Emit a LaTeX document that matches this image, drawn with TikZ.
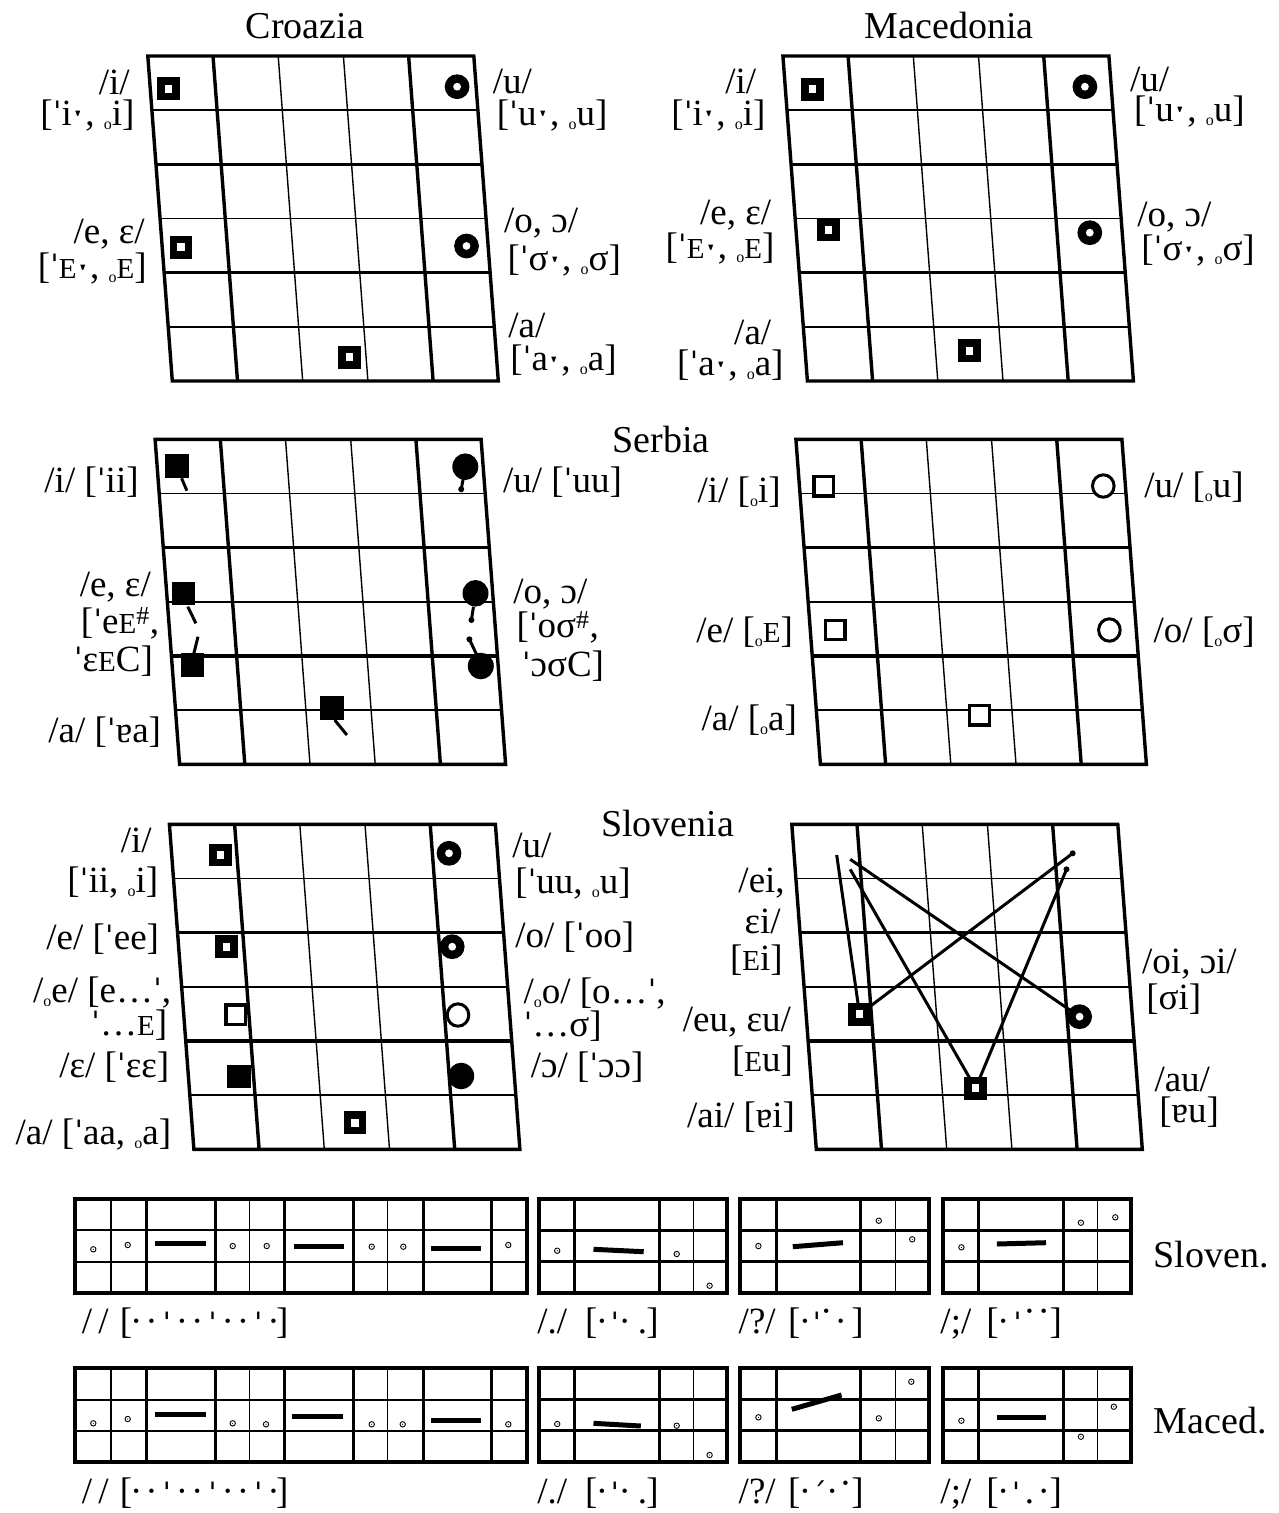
\documentclass[tikz,border=0pt]{standalone}
\usepackage{fontspec}
\setmainfont{Liberation Serif}
\newfontfamily\dvs{DejaVu Serif}[Scale=0.87]
\newcommand\stm{{\dvs ˈ}}
\newcommand\hlm{{\fontsize{46}{46}\dvs\raisebox{-3.5pt}{ˑ}}}
\newcommand\lo{\raisebox{-4pt}{\fontsize{16}{16}\selectfont o}}
\newcommand\sce{{\fontsize{29}{29}\selectfont E}}
\newcommand\Eps{ɛ}
\newcommand\Oc{ɔ}
\newcommand\Ta{ɐ}
\newcommand\sh{\textsuperscript{\#}}
\newcommand\glat[2]{\rlap{\hspace*{#1pt}\makebox[0pt]{#2}}}
\newcommand\pstm{\raisebox{-3pt}{\stm}}
\newcommand\ph[1]{\raisebox{#1pt}{·}}
\newcommand\pac{\raisebox{-3pt}{{\dvs ˊ}}}
% chart: top-left x, y
\newcommand\vchart[2]{%
\begin{scope}[shift={(#1,#2)}]
\foreach \k in {1,3,5}{\draw[thn] ({4.0833*\k},{54.1667*\k}) -- ({326+4.0833*\k},{54.1667*\k});}
\foreach \k in {2,4}{\draw[thk] ({4.0833*\k},{54.1667*\k}) -- ({326+4.0833*\k},{54.1667*\k});}
\foreach \j in {2,3}{\draw[thn] ({65.2*\j},0) -- ({65.2*\j+24.5},325);}
\foreach \j in {1,4}{\draw[thk] ({65.2*\j},0) -- ({65.2*\j+24.5},325);}
\draw[thk,line join=miter] (0,0) -- (326,0) -- (350.5,325) -- (24.5,325) -- cycle;
\end{scope}}
% markers
\newcommand\msq[1]{\fill ([shift={(-11.25,-11.25)}]#1) rectangle +(22.5,22.5);\fill[white] ([shift={(-3.75,-4)}]#1) rectangle +(7.5,8);}
\newcommand\mci[1]{\fill (#1) circle[radius=12.4];\fill[white] (#1) circle[radius=3.9];}
\newcommand\fsq[1]{\fill ([shift={(-11.75,-11.75)}]#1) rectangle +(23.5,23.5);}
\newcommand\fci[1]{\fill (#1) ellipse[x radius=13,y radius=13.3];}
\newcommand\osq[1]{\filldraw[fill=white,line width=3.3pt] ([shift={(-9.8,-9.8)}]#1) rectangle +(19.6,19.6);}
\newcommand\oci[1]{\filldraw[fill=white,line width=3pt] (#1) ellipse[x radius=10.8,y radius=11.2];}
% prosody boxes
\newcommand\bigbox[1]{%
\begin{scope}[shift={(0,#1)}]
\draw[bxh] (75,31.3) -- (526.7,31.3);
\draw[bxh] (75,62.6) -- (526.7,62.6);
\foreach \x in {111,249.3,387.7}{\draw[bxt] (\x,0) -- (\x,94);}
\foreach \x in {146,215,284.3,353.3,423.3,491.7}{\draw[bxk] (\x,0) -- (\x,94);}
\draw[bxb] (75,0) rectangle (526.7,94);
\end{scope}}
\newcommand\smallbox[2]{%
\begin{scope}[shift={(#1,#2)}]
\draw[bxh2] (0,31.3) -- (188.5,31.3);
\draw[bxh2] (0,62.3) -- (188.5,62.3);
\draw[bxk] (36,0) -- (36,94);
\draw[bxk] (120.5,0) -- (120.5,94);
\draw[bxt] (155,0) -- (155,94);
\draw[bxb] (0,0) rectangle (188.5,94);
\end{scope}}
\newcommand\pdot[1]{\draw[pdl] (#1) circle[radius=2.7];\fill (#1) circle[radius=0.6];}
\begin{document}
\begin{tikzpicture}[x=1pt,y=-1pt,
  lab/.style={font=\fontsize{37}{40}\selectfont,inner sep=0pt},
  le/.style={lab,anchor=east},
  lw/.style={lab,anchor=west},
  ttl/.style={font=\fontsize{38}{42}\selectfont,inner sep=0pt,anchor=base},
  thk/.style={line width=3.4pt},
  thn/.style={line width=1.4pt},
  tailln/.style={line width=3pt},
  conn/.style={line width=3pt},
  bxb/.style={line width=4pt,line join=miter},
  bxk/.style={line width=3pt},
  bxt/.style={line width=1.3pt},
  bxh/.style={line width=1.8pt},
  bxh2/.style={line width=2.6pt},
  pbar/.style={line width=5pt},
  pdl/.style={line width=0.9pt}]
\fill[white] (0,0) rectangle (1279,1513);
\useasboundingbox (0,0) rectangle (1279,1513);

% ---------------- titles
\node[ttl] (tcro) at (305,38.3) {Croazia};
\node[ttl] (tmac) at (949.2,38.3) {Macedonia};
\node[ttl] (tser) at (661,452) {Serbia};
\node[ttl] (tslo) at (667.5,836) {Slovenia};
\node[ttl,anchor=base west] (tslov) at (1153.5,1267) {Sloven.};
\node[ttl,anchor=base west] (tmaced) at (1153.5,1433) {Maced.};

% ---------------- charts
\vchart{147.8}{56}
\vchart{782.9}{56}
\vchart{155.1}{439.3}
\vchart{795.9}{439.3}
\vchart{169.4}{824.3}
\vchart{791.8}{824.3}

% ---------------- Croazia
\coordinate (cri) at (168.6,88.7);
\coordinate (cru) at (457.1,86.7);
\coordinate (cre) at (180.8,247.3);
\coordinate (cro) at (466.5,246);
\coordinate (cra) at (349.4,357.3);
\msq{cri}\mci{cru}\msq{cre}\mci{cro}\msq{cra}
\node[le] (cr1) at (129.8,82.3) {/i/};
\node[le] (cr2) at (134.7,115.3) {[\stm i\hlm, \lo i]};
\node[lw] (cr3) at (492.7,81.7) {/u/};
\node[lw] (cr4) at (496.7,115.3) {[\stm u\hlm, \lo u]};
\node[le] (cr5) at (144.9,234) {/e, \Eps/};
\node[le] (cr6) at (146.9,269) {[\stm\sce\hlm, \lo\sce]};
\node[lw] (cr7) at (504,222.7) {/o, \Oc/};
\node[lw] (cr8) at (507.3,260.7) {[\stm σ\hlm, \lo σ]};
\node[lw] (cr9) at (508.2,325.7) {/a/};
\node[lw] (cr10) at (510.2,360.7) {[\stm a\hlm, \lo a]};

% ---------------- Macedonia
\coordinate (mai) at (812.7,89.3);
\coordinate (mau) at (1084.9,86.7);
\coordinate (mae) at (828.6,230);
\coordinate (mao) at (1089.8,232.7);
\coordinate (maa) at (969.4,350.7);
\msq{mai}\mci{mau}\msq{mae}\mci{mao}\msq{maa}
\node[le] (ma1) at (756.3,81.5) {/i/};
\node[le] (ma2) at (765.7,115.5) {[\stm i\hlm, \lo i]};
\node[lw] (ma3) at (1129.8,79) {/u/};
\node[lw] (ma4) at (1133.9,111.5) {[\stm u\hlm, \lo u]};
\node[le] (ma5) at (771.4,215) {/e, \Eps/};
\node[le] (ma6) at (774.7,249) {[\stm\sce\hlm, \lo\sce]};
\node[lw] (ma7) at (1137.1,216.7) {/o, \Oc/};
\node[lw] (ma8) at (1141.2,250.8) {[\stm σ\hlm, \lo σ]};
\node[le] (ma9) at (771.4,332.5) {/a/};
\node[le] (ma10) at (783.7,365.8) {[\stm a\hlm, \lo a]};

% ---------------- Serbia left
\draw[tailln] (181.6,478.3) -- (186.9,490.7);
\draw[tailln] (463.3,478.3) -- (461.2,489.3);
\fill (461.2,489.3) circle[radius=3];
\draw[tailln] (187.8,606.7) -- (195.9,623.3);
\draw[tailln] (198,636.7) -- (193.9,653.3);
\draw[tailln] (473.5,606.7) -- (471.4,620);
\fill (471.4,620) circle[radius=3];
\draw[tailln] (477.6,656.7) -- (469.4,639.3);
\fill (469.4,639.3) circle[radius=3];
\draw[tailln] (334.7,720) -- (346.9,735);
\coordinate (sli) at (177.1,466);
\coordinate (slu) at (465.3,466.7);
\coordinate (sle) at (183.7,593.3);
\coordinate (sleps) at (192.4,665);
\coordinate (slo) at (475.5,593.3);
\coordinate (sloc) at (480.8,666);
\coordinate (sla) at (332.2,708);
\fsq{sli}\fci{slu}\fsq{sle}\fsq{sleps}\fci{slo}\fci{sloc}\fsq{sla}
\node[le] (sl1) at (138.8,482.5) {/i/ [\stm ii]};
\node[lw] (sl2) at (502.9,481.7) {/u/ [\stm uu]};
\node[le] (sl3) at (151,587.5) {/e, \Eps/};
\node[le] (sl4) at (159.2,623.3) {[\stm e\sce\sh,};
\node[le] (sl5) at (153.1,660.7) {\stm\Eps\sce C]};
\node[lw] (sl6) at (513.1,594) {/o, \Oc/};
\node[lw] (sl7) at (516.3,627.3) {[\stm oσ\sh,};
\node[lw] (sl8) at (521.6,665.7) {\stm\Oc σC]};
\node[le] (sl9) at (161.2,732.3) {/a/ [\stm\Ta a]};

% ---------------- Serbia right
\coordinate (sri) at (823.7,486.2);
\coordinate (sru) at (1103.3,486);
\coordinate (sre) at (835.3,630);
\coordinate (sro) at (1109.4,630);
\coordinate (sra) at (979.4,715.2);
\osq{sri}\oci{sru}\osq{sre}\oci{sro}\osq{sra}
\node[le] (sr1) at (780.8,491.7) {/i/ [\lo i]};
\node[lw] (sr2) at (1144.1,486.7) {/u/ [\lo u]};
\node[le] (sr3) at (793.1,632.3) {/e/ [\lo\sce]};
\node[lw] (sr4) at (1153.5,631.7) {/o/ [\lo σ]};
\node[le] (sr5) at (797.1,720) {/a/ [\lo a]};

% ---------------- Slovenia left
\coordinate (svi) at (220.4,855);
\coordinate (svu) at (449,853.3);
\coordinate (sve) at (226.5,946.7);
\coordinate (svo) at (452.2,946.7);
\coordinate (svue) at (235.9,1014.7);
\coordinate (svuo) at (458,1015);
\coordinate (sveps) at (238.8,1076.7);
\coordinate (svoc) at (461.2,1076);
\coordinate (sva) at (355.1,1122.7);
\msq{svi}\mci{svu}\msq{sve}\mci{svo}\osq{svue}\oci{svuo}\fsq{sveps}\fci{svoc}\msq{sva}
\node[le] (sv1) at (151.8,840) {/i/};
\node[le] (sv2) at (158.4,882.3) {[\stm ii, \lo i]};
\node[lw] (sv3) at (512.2,845) {/u/};
\node[lw] (sv4) at (515.1,883.3) {[\stm uu, \lo u]};
\node[le] (sv5) at (159.2,939) {/e/ [\stm ee]};
\node[lw] (sv6) at (515.1,937.3) {/o/ [\stm oo]};
\node[le] (sv7) at (171.4,992) {/\lo e/ [e…\stm,};
\node[le] (sv8) at (167.3,1025.5) {\stm…\sce]};
\node[lw] (sv9) at (523.3,993.5) {/\lo o/ [o…\stm,};
\node[lw] (sv10) at (523.3,1026.5) {\stm…σ]};
\node[le] (sv11) at (169.4,1067.3) {/\Eps/ [\stm\Eps\Eps]};
\node[lw] (sv12) at (530.6,1067.3) {/\Oc/ [\stm\Oc\Oc]};
\node[le] (sv13) at (171.4,1134) {/a/ [\stm aa, \lo a]};

% ---------------- Slovenia right (diphthongs)
\coordinate (seu) at (859.6,1014.3);
\coordinate (soi) at (1079.6,1016.7);
\coordinate (sau) at (975.5,1088.3);
\coordinate (la) at (836.7,855);
\coordinate (lb) at (850.2,859.3);
\coordinate (lc) at (850.2,869.3);
\coordinate (ld) at (1072.7,853.3);
\coordinate (le) at (1066.5,869.3);
\draw[conn] (la) -- (seu);
\draw[conn] (lb) -- (soi);
\draw[conn] (lc) -- (sau);
\draw[conn] (seu) -- (ld);
\draw[conn] (sau) -- (le);
\fill (ld) circle[radius=3];
\fill (le) circle[radius=3];
\msq{seu}\mci{soi}\msq{sau}
\node[le] (so1) at (784.9,883.3) {/ei,};
\node[le] (so2) at (780.8,921.7) {\Eps i/};
\node[le] (so3) at (782.9,960) {[\sce i]};
\node[le] (so4) at (791,1022) {/eu, \Eps u/};
\node[le] (so5) at (793.1,1060.7) {[\sce u]};
\node[le] (so6) at (795.1,1116.7) {/ai/ [\Ta i]};
\node[lw] (so7) at (1142,964) {/oi, \Oc i/};
\node[lw] (so8) at (1146.1,999) {[σi]};
\node[lw] (so9) at (1154.3,1079) {/au/};
\node[lw] (so10) at (1159.2,1112.3) {[\Ta u]};

% ---------------- prosody: Sloven.
\bigbox{1199}
\smallbox{538.8}{1199}
\smallbox{740.2}{1199}
\smallbox{942.5}{1199}
\pdot{93.3,1249.3}\pdot{127.7,1245}\pdot{232.7,1246}\pdot{266.7,1246}
\pdot{371.7,1246.7}\pdot{403.3,1246.7}\pdot{508.3,1245}
\draw[pbar] (155,1243.3) -- (205.7,1243.3);
\draw[pbar] (294.3,1246.7) -- (344.3,1246.7);
\draw[pbar] (431,1248.3) -- (481,1248.3);
\pdot{557.2,1250.7}\pdot{676.7,1254}\pdot{709.6,1285.7}
\draw[pbar] (593.5,1249.3) -- (643.7,1251.7);
\pdot{758.4,1246}\pdot{878.8,1220.7}\pdot{912.2,1239.3}
\draw[pbar] (792.8,1246.7) -- (842.9,1242.7);
\pdot{961.4,1247.3}\pdot{1080.9,1222.7}\pdot{1115.3,1217.3}
\draw[pbar] (996.8,1244) -- (1046,1242.7);

% ---------------- prosody: Maced.
\bigbox{1368.3}
\smallbox{538.8}{1368.3}
\smallbox{740.2}{1368.3}
\smallbox{942.5}{1368.3}
\pdot{93.3,1423.3}\pdot{127.7,1419}\pdot{232.7,1423.3}\pdot{266,1424.3}
\pdot{371.7,1424.3}\pdot{402.7,1424.3}\pdot{508.3,1424.3}
\draw[pbar] (155,1414.3) -- (205.7,1414.3);
\draw[pbar] (292.3,1416) -- (343.3,1416);
\draw[pbar] (431,1420) -- (481,1420);
\pdot{557.2,1424}\pdot{676.7,1425.7}\pdot{709.6,1455}
\draw[pbar] (593.5,1423.3) -- (640.8,1426);
\pdot{758.4,1417.3}\pdot{878.8,1418.3}\pdot{911.3,1381.7}
\draw[pbar] (791.8,1409.3) -- (841.5,1395);
\pdot{961.4,1420.7}\pdot{1080.9,1436.7}\pdot{1113.8,1406.7}
\draw[pbar] (996.8,1417.3) -- (1046,1417.3);

% ---------------- prosody labels
\node[lab,anchor=base west] (pa1) at (78,1333) {\glat{8.7}{/}\glat{25.3}{/}\glat{47.8}{[}\glat{58}{·}\glat{73.25}{·}\glat{88.5}{\pstm}\glat{103.75}{·}\glat{119}{·}\glat{134.25}{\pstm}\glat{149.5}{·}\glat{164.75}{·}\glat{180}{\pstm}\glat{195.25}{·}\glat{204}{]}\hspace*{208pt}};
\node[lab,anchor=base west] (pa2) at (540,1333) {\glat{12}{/./}\glat{51}{[}\glat{61.7}{·}\glat{74.6}{\pstm}\glat{84.6}{·}\glat{102.2}{.}\glat{112.3}{]}\hspace*{116pt}};
\node[lab,anchor=base west] (pa3) at (740,1333) {\glat{17}{/?/}\glat{54}{[}\glat{64.7}{·}\glat{76.7}{\pstm}\glat{86.2}{\ph{10}}\glat{100.6}{·}\glat{117.3}{]}\hspace*{121pt}};
\node[lab,anchor=base west] (pa4) at (942,1333) {\glat{13.7}{/;/}\glat{50.3}{[}\glat{61}{·}\glat{75.3}{\pstm}\glat{87.3}{\ph{10}}\glat{101.6}{\ph{10}}\glat{113.6}{]}\hspace*{117pt}};

\node[lab,anchor=base west] (pb1) at (78,1503) {\glat{8.7}{/}\glat{25.3}{/}\glat{47.8}{[}\glat{58}{·}\glat{73.25}{·}\glat{88.5}{\pstm}\glat{103.75}{·}\glat{119}{·}\glat{134.25}{\pstm}\glat{149.5}{·}\glat{164.75}{·}\glat{180}{\pstm}\glat{195.25}{·}\glat{204}{]}\hspace*{208pt}};
\node[lab,anchor=base west] (pb2) at (540,1503) {\glat{12}{/./}\glat{51}{[}\glat{61.7}{·}\glat{74.6}{\pstm}\glat{84.6}{·}\glat{102.2}{.}\glat{112.3}{]}\hspace*{116pt}};
\node[lab,anchor=base west] (pb3) at (740,1503) {\glat{17}{/?/}\glat{54}{[}\glat{64.7}{·}\glat{79}{\pac}\glat{92}{·}\glat{105.3}{\ph{8}}\glat{117.3}{]}\hspace*{121pt}};
\node[lab,anchor=base west] (pb4) at (942,1503) {\glat{13.7}{/;/}\glat{50.3}{[}\glat{61}{·}\glat{73.9}{\pstm}\glat{87.3}{.}\glat{101.6}{·}\glat{113.6}{]}\hspace*{117pt}};
\end{tikzpicture}
\end{document}
